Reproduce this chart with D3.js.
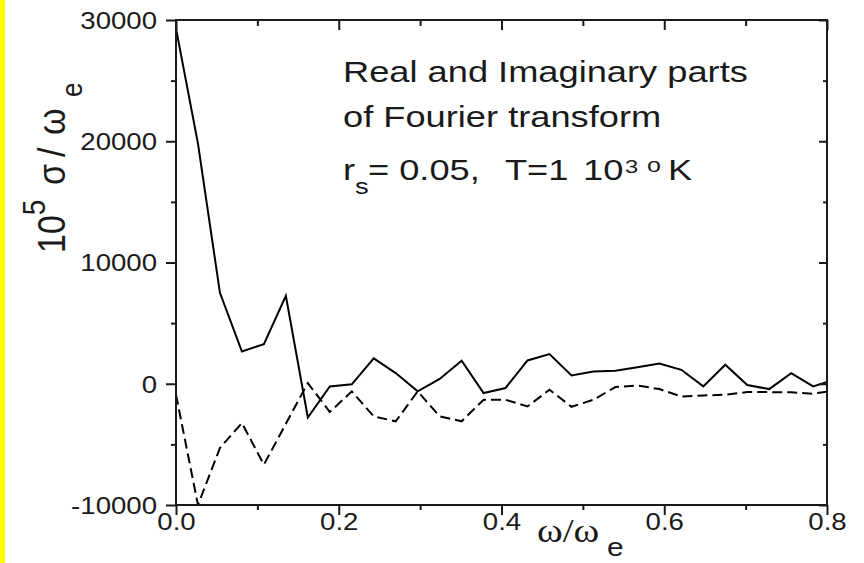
<!DOCTYPE html>
<html>
<head>
<meta charset="utf-8">
<script src="https://cdn.jsdelivr.net/npm/d3@7"></script>
<style>
  body { margin: 0; background: #fff; }
</style>
</head>
<body>
<svg width="864" height="563" font-family="'Liberation Sans', Arial, sans-serif"></svg>
<script>

// values
const omega = [0, 0.027, 0.054, 0.081, 0.108, 0.135, 0.162, 0.189, 0.216, 0.243, 0.270,
               0.297, 0.324, 0.351, 0.378, 0.405, 0.432, 0.459, 0.486, 0.513, 0.540,
               0.567, 0.594, 0.621, 0.648, 0.675, 0.702, 0.729, 0.756, 0.783, 0.810];
const realPart = [29300, 19800, 7500, 2660, 3270, 7250, -2780, -220, -50, 2090, 880,
                  -630, 400, 1900, -770, -350, 1920, 2450, 690, 1010, 1070,
                  1370, 1670, 1150, -220, 1570, -110, -440, 880, -220, 350];
const imagPart = [-900, -10000, -5300, -3240, -6670, -3300, 60, -2330, -630, -2690, -3100,
                  -630, -2690, -3100, -1320, -1320, -1870, -490, -1900, -1320, -270,
                  -140, -440, -1050, -960, -910, -690, -690, -710, -820, -550];

const xTicks = [0, 0.2, 0.4, 0.6, 0.8];
const xMinor = [0.1, 0.3, 0.5, 0.7];
const yTicks = [-10000, 0, 10000, 20000, 30000];
const yMinor = [-5000, 5000, 15000, 25000];

let svg = d3.select("svg");
let width = +svg.attr("width"),
    height = +svg.attr("height");
let margin = {top: 20, right: 37, bottom: 58, left: 176};
let sx = 1.2;    // the original text is a little stretched sideways
let ink = "#1a1a1a";

svg.append("rect").attr("width", width).attr("height", height).attr("fill", "#fff");
svg.append("rect").attr("width", 5).attr("height", height).attr("fill", "#ffff00");

let x = d3.scaleLinear().domain([0, 0.8]).range([margin.left, width - margin.right]);
let y = d3.scaleLinear().domain([-10000, 30000]).range([height - margin.bottom, margin.top]);

svg.append("clipPath").attr("id", "plot")
  .append("rect")
    .attr("x", x(0)).attr("y", y(30000))
    .attr("width", x(0.8) - x(0)).attr("height", y(-10000) - y(30000));

// lines
let pts = omega.map(function(d, i) { return {w: d, re: realPart[i], im: imagPart[i]}; });

svg.append("path")
    .datum(pts)
    .attr("clip-path", "url(#plot)")
    .attr("fill", "none")
    .attr("stroke", "#000")
    .attr("stroke-width", 2)
    .attr("stroke-dasharray", "10,5")
    .attr("d", d3.line().x(function(d) { return x(d.w); }).y(function(d) { return y(d.im); }));

svg.append("path")
    .datum(pts)
    .attr("clip-path", "url(#plot)")
    .attr("fill", "none")
    .attr("stroke", "#000")
    .attr("stroke-width", 2)
    .attr("d", d3.line().x(function(d) { return x(d.w); }).y(function(d) { return y(d.re); }));

// axes
function tidy(g) {
  g.select(".domain").remove();
  g.selectAll("line").attr("stroke", ink).attr("stroke-width", 2);
}

let yBot = height - margin.bottom, yTop = margin.top;
let xLeft = margin.left, xRight = width - margin.right;

svg.append("g").attr("transform", "translate(0," + yBot + ")")
    .call(d3.axisBottom(x).tickValues(xTicks).tickSize(10).tickFormat(d3.format(".1f")))
    .call(tidy)
    .call(function(g) {
      g.selectAll("text")
        .attr("y", 9).attr("dy", "0.71em")
        .attr("font-size", 23).attr("fill", ink)
        .attr("font-family", "'Liberation Sans', Arial, sans-serif")
        .attr("transform", "scale(" + sx + ",1)");
    });
svg.append("g").attr("transform", "translate(0," + yBot + ")")
    .call(d3.axisBottom(x).tickValues(xMinor).tickSize(5).tickFormat(""))
    .call(tidy);

svg.append("g").attr("transform", "translate(" + xLeft + ",0)")
    .call(d3.axisLeft(y).tickValues(yTicks).tickSize(10).tickFormat(function(d) { return String(d); }))
    .call(tidy)
    .call(function(g) {
      g.selectAll("text")
        .attr("x", -19 / sx).attr("dy", "0.36em")
        .attr("font-size", 23).attr("fill", ink)
        .attr("font-family", "'Liberation Sans', Arial, sans-serif")
        .attr("transform", "scale(" + sx + ",1)");
    });
svg.append("g").attr("transform", "translate(" + xLeft + ",0)")
    .call(d3.axisLeft(y).tickValues(yMinor).tickSize(5).tickFormat(""))
    .call(tidy);

// mirrored ticks, pointing in
svg.append("g").attr("transform", "translate(0," + yTop + ")")
    .call(d3.axisBottom(x).tickValues(xTicks).tickSize(10).tickFormat(""))
    .call(tidy);
svg.append("g").attr("transform", "translate(0," + yTop + ")")
    .call(d3.axisBottom(x).tickValues(xMinor).tickSize(6).tickFormat(""))
    .call(tidy);
svg.append("g").attr("transform", "translate(" + xRight + ",0)")
    .call(d3.axisLeft(y).tickValues(yTicks).tickSize(8).tickFormat(""))
    .call(tidy);
svg.append("g").attr("transform", "translate(" + xRight + ",0)")
    .call(d3.axisLeft(y).tickValues(yMinor).tickSize(4).tickFormat(""))
    .call(tidy);

svg.append("rect")
    .attr("x", xLeft).attr("y", yTop)
    .attr("width", xRight - xLeft).attr("height", yBot - yTop)
    .attr("fill", "none").attr("stroke", ink).attr("stroke-width", 2);

// y title
let yt = svg.append("text")
    .attr("transform", "translate(65,253) rotate(-90) scale(1,1.12)")
    .attr("font-size", 34).attr("fill", ink);
yt.append("tspan").attr("x", 0).text("10");
yt.append("tspan").attr("font-size", 28).attr("dy", -18).text("5");
yt.append("tspan").attr("x", 68).attr("dy", 18).text("σ");
yt.append("tspan").attr("x", 96).text("/");
yt.append("tspan").attr("x", 118).text("ω");
yt.append("tspan").attr("x", 156).attr("dy", 15).attr("font-size", 26).text("e");

// x title
let xt = svg.append("g").attr("transform", "translate(537,542) scale(1.15,1)").attr("fill", ink);
xt.append("text")
    .attr("font-family", "'Liberation Serif', 'Times New Roman', serif")
    .attr("font-size", 34).text("ω/ω");
xt.append("text").attr("x", (607 - 537) / 1.15).attr("y", 14).attr("font-size", 26).text("e");

// note
let note = svg.append("g")
    .attr("transform", "translate(343,0) scale(1.25,1)")
    .attr("font-size", 29).attr("fill", ink);
note.append("text").attr("y", 82).text("Real and Imaginary parts");
note.append("text").attr("y", 127).text("of Fourier transform");
let l3 = note.append("text").attr("y", 180);
l3.append("tspan").attr("x", 0).text("r");
l3.append("tspan").attr("x", (355 - 343) / 1.25).attr("y", 194).attr("font-size", 22).text("s");
l3.append("tspan").attr("x", (368 - 343) / 1.25).attr("y", 180).text("= 0.05,");
l3.append("tspan").attr("x", (505 - 343) / 1.25).text("T=1");
l3.append("tspan").attr("x", (583 - 343) / 1.25).text("10");
l3.append("tspan").attr("x", (625 - 343) / 1.25).attr("y", 173).attr("font-size", 19).text("3");
l3.append("tspan").attr("x", (647 - 343) / 1.25).attr("y", 172).attr("font-size", 20).text("o");
l3.append("tspan").attr("x", (668 - 343) / 1.25).attr("y", 180).text("K");

</script>
</body>
</html>
